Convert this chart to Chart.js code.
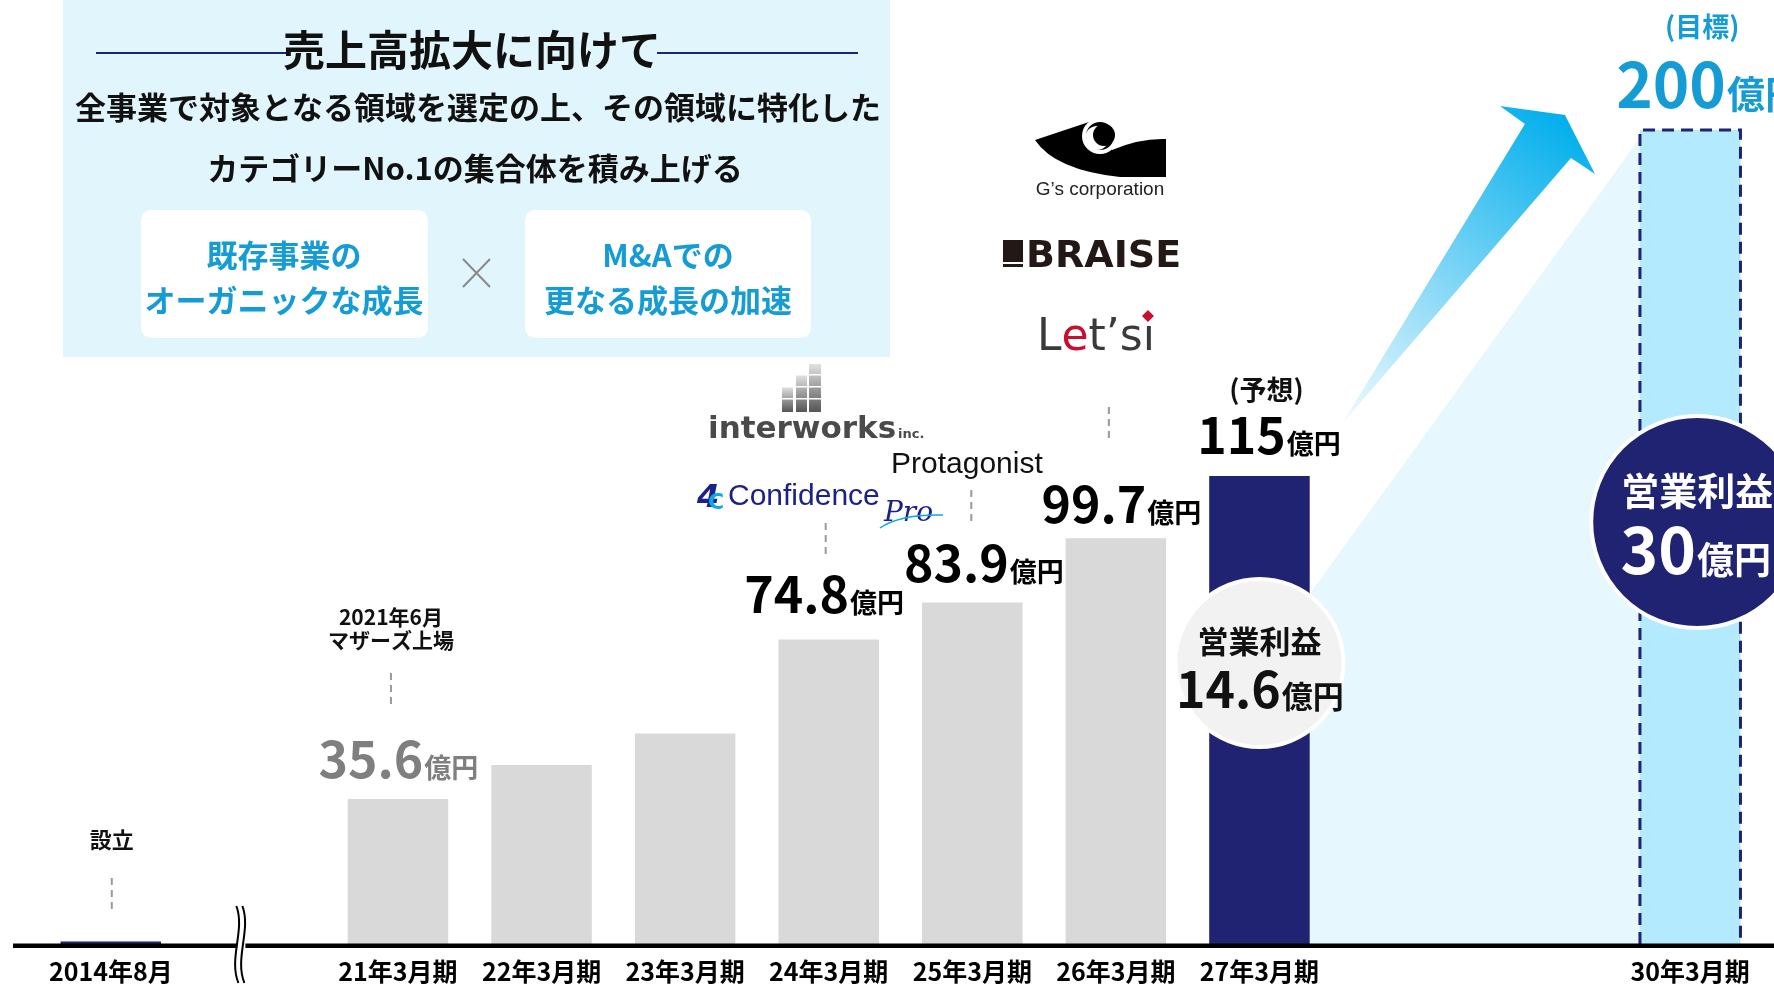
<!DOCTYPE html>
<html lang="ja">
<head>
<meta charset="utf-8">
<title>売上高拡大に向けて</title>
<script src="https://cdn.jsdelivr.net/npm/chart.js@4.4.1/dist/chart.umd.min.js"></script>
<style>
  html, body { margin: 0; padding: 0; background: #fff; }
  #wrap { width: 1774px; height: 985px; }
</style>
</head>
<body>
<div id="wrap"><canvas id="salesChart" width="1774" height="985"></canvas></div>
<script>
// 売上高（億円）: 2014年8月は設立時、28・29年は空欄
const categories = ['2014年8月', '', '21年3月期', '22年3月期', '23年3月期', '24年3月期', '25年3月期', '26年3月期', '27年3月期', '', '', '30年3月期'];
const sales = [0.6, null, 35.6, 44.0, 51.7, 74.8, 83.9, 99.7, 115, null, null, 200];
const labeledBars = [2, 5, 6, 7, 8];          // 金額を表示する棒
const profitValues = [14.6, 30];              // 営業利益 27年3月期(予想), 30年3月期(目標)

const FONT = '"Noto Sans CJK JP", "Noto Sans", sans-serif';
const NAVY = '#1f2372';
const CYAN = '#159cd4';
const barColors = [NAVY, 'rgba(0,0,0,0)', '#d9d9d9', '#d9d9d9', '#d9d9d9', '#d9d9d9', '#d9d9d9', '#d9d9d9', NAVY, 'rgba(0,0,0,0)', 'rgba(0,0,0,0)', '#b3eafd'];
// ラベルの位置調整 (棒の中心・上端からのずれ)
const labelShift = { 2: [0, -21, '#7f7f7f'], 5: [-5, -27, '#000'], 6: [11, -21, '#000'], 7: [5, -15, '#000'], 8: [9, -22, '#000'] };

function fmt(v) { return Number.isInteger(v) ? String(v) : v.toFixed(1); }

function text(ctx, s, x, y, size, color, opts) {
    opts = opts || {};
    ctx.font = `${opts.italic ? 'italic ' : ''}${opts.weight || 'bold'} ${size}px ${opts.family || FONT}`;
    ctx.fillStyle = color;
    ctx.textAlign = opts.align || 'center';
    ctx.textBaseline = opts.baseline || 'middle';
    ctx.fillText(s, x, y);
}

// 数字 + 億円
function amount(ctx, num, x, y, numSize, unitSize, color, align) {
    ctx.textBaseline = 'alphabetic';
    ctx.font = `bold ${numSize}px ${FONT}`;
    const w1 = ctx.measureText(num).width;
    ctx.font = `bold ${unitSize}px ${FONT}`;
    const w2 = ctx.measureText('億円').width;
    const left = align === 'left' ? x : x - (w1 + w2) / 2;
    ctx.fillStyle = color;
    ctx.textAlign = 'left';
    ctx.font = `bold ${numSize}px ${FONT}`;
    ctx.fillText(num, left, y);
    ctx.font = `bold ${unitSize}px ${FONT}`;
    ctx.fillText('億円', left + w1 + 1, y);
}

function dashV(ctx, x, y1, y2) {
    ctx.save();
    ctx.strokeStyle = '#9a9a9a';
    ctx.lineWidth = 2;
    ctx.setLineDash([7, 5]);
    ctx.beginPath();
    ctx.moveTo(x, y1);
    ctx.lineTo(x, y2);
    ctx.stroke();
    ctx.restore();
}

function circle(ctx, x, y, r, fill) {
    ctx.beginPath();
    ctx.arc(x, y, r, 0, Math.PI * 2);
    ctx.fillStyle = fill;
    ctx.fill();
    ctx.lineWidth = 4;
    ctx.strokeStyle = '#fff';
    ctx.stroke();
}

const decor = {
    id: 'decor',
    beforeDatasetsDraw(chart) {
        const ctx = chart.ctx;
        const meta = chart.getDatasetMeta(0);
        const base = chart.scales.y.getPixelForValue(0);
        const b27 = meta.data[8], b30 = meta.data[11];
        const r27 = b27.x + b27.width / 2, l30 = b30.x - b30.width / 2;
        ctx.save();

        // 左上のパネル
        ctx.fillStyle = '#e1f5fd';
        ctx.fillRect(63, 0, 827, 357);
        ctx.strokeStyle = NAVY;
        ctx.lineWidth = 2;
        ctx.beginPath();
        ctx.moveTo(96, 53); ctx.lineTo(287, 53);
        ctx.moveTo(657, 53); ctx.lineTo(858, 53);
        ctx.stroke();
        text(ctx, '売上高拡大に向けて', 472, 50, 42, '#111');
        text(ctx, '全事業で対象となる領域を選定の上、その領域に特化した', 478, 107, 31, '#111');
        text(ctx, 'カテゴリーNo.1の集合体を積み上げる', 475, 168, 31, '#111');
        ctx.fillStyle = '#fff';
        ctx.beginPath(); ctx.roundRect(141, 210, 287, 128, 10); ctx.fill();
        ctx.beginPath(); ctx.roundRect(525, 210, 286, 128, 10); ctx.fill();
        text(ctx, '既存事業の', 284, 255, 31, CYAN);
        text(ctx, 'オーガニックな成長', 284, 300, 31, CYAN);
        text(ctx, 'M&Aでの', 668, 255, 31, CYAN);
        text(ctx, '更なる成長の加速', 668, 300, 31, CYAN);
        ctx.strokeStyle = '#8a8a8a';
        ctx.lineWidth = 2;
        ctx.beginPath();
        ctx.moveTo(463, 259); ctx.lineTo(490, 287);
        ctx.moveTo(490, 259); ctx.lineTo(463, 287);
        ctx.stroke();

        // 27年 → 30年 の拡大部分
        ctx.fillStyle = '#e6f7fe';
        ctx.beginPath();
        ctx.moveTo(r27, b27.y + 118);
        ctx.lineTo(l30, b30.y + 8);
        ctx.lineTo(l30, base);
        ctx.lineTo(r27, base);
        ctx.closePath();
        ctx.fill();

        // 矢印
        const ax = l30, ay = b30.y;
        const g = ctx.createLinearGradient(ax - 298, ay + 294, ax - 75, ay - 15);
        g.addColorStop(0, '#f2fbff');
        g.addColorStop(0.45, '#86d8f6');
        g.addColorStop(1, '#00aeec');
        ctx.fillStyle = g;
        ctx.beginPath();
        ctx.moveTo(ax - 298, ay + 294);
        ctx.lineTo(ax - 115, ay - 6);
        ctx.lineTo(ax - 140, ay - 24);
        ctx.lineTo(ax - 75, ay - 15);
        ctx.lineTo(ax - 45, ay + 44);
        ctx.lineTo(ax - 69, ay + 28);
        ctx.closePath();
        ctx.fill();
        ctx.restore();
    },
    afterDatasetsDraw(chart) {
        const ctx = chart.ctx;
        const meta = chart.getDatasetMeta(0);
        const xs = chart.scales.x;
        const base = chart.scales.y.getPixelForValue(0);
        const bars = meta.data;
        ctx.save();

        // 30年3月期の点線枠
        const b30 = bars[11];
        const l = b30.x - b30.width / 2, r = b30.x + b30.width / 2;
        ctx.strokeStyle = NAVY;
        ctx.lineWidth = 3;
        ctx.setLineDash([12, 7]);
        ctx.beginPath();
        ctx.moveTo(l, base);
        ctx.lineTo(l, b30.y);
        ctx.lineTo(r, b30.y);
        ctx.lineTo(r, base);
        ctx.stroke();
        ctx.setLineDash([]);

        // 軸線と省略記号
        ctx.fillStyle = '#000';
        ctx.fillRect(13, base - 0.5, 1761, 4.5);
        const bx = xs.getPixelForValue(1) - 18;
        ctx.fillStyle = '#fff';
        ctx.fillRect(bx + 1, base - 4, 8, 12);
        ctx.strokeStyle = '#000';
        ctx.lineWidth = 2;
        [bx, bx + 6].forEach(x => {
            ctx.beginPath();
            ctx.moveTo(x, base - 38);
            ctx.bezierCurveTo(x + 9, base - 14, x - 8, base + 14, x + 2, base + 39);
            ctx.stroke();
        });

        // 注記
        const x0 = bars[0].x;
        text(ctx, '設立', x0 + 1, 840, 22, '#111');
        dashV(ctx, x0 + 1, 878, 913);
        const x21 = bars[2].x - 7;
        text(ctx, '2021年6月', x21, 617, 21, '#111');
        text(ctx, 'マザーズ上場', x21, 640, 21, '#111');
        dashV(ctx, x21, 673, 707);
        dashV(ctx, bars[5].x - 3, 523, 558);
        dashV(ctx, bars[6].x - 1, 490, 524);
        dashV(ctx, bars[7].x - 7, 407, 442);

        // 金額ラベル
        labeledBars.forEach(i => {
            const s = labelShift[i];
            amount(ctx, fmt(sales[i]), bars[i].x + s[0], bars[i].y + s[1], 50, 27, s[2]);
        });
        text(ctx, '(予想)', bars[8].x + 7, 390, 27, '#111');
        text(ctx, '(目標)', b30.x + 12, 27, 27, CYAN);
        amount(ctx, fmt(sales[11]), b30.x - 74, b30.y - 22, 62, 38, CYAN, 'left');

        // 営業利益
        const b27 = bars[8];
        const gy = b27.y + 187;
        circle(ctx, b27.x, gy, 84, '#f2f2f2');
        text(ctx, '営業利益', b27.x, gy - 22, 31, '#111');
        amount(ctx, fmt(profitValues[0]), b27.x, gy + 45, 50, 31, '#111');
        const ny = b30.y + 392;
        circle(ctx, b30.x + 7, ny, 106, NAVY);
        text(ctx, '営業利益', b30.x + 7, ny - 32, 38, '#fff');
        amount(ctx, fmt(profitValues[1]), b30.x + 5, ny + 52, 64, 37, '#fff');

        // ロゴ (文字で代用)
        // interworks
        [[782, 387, 11, 25], [796, 375, 11, 37], [809, 364, 12, 48]].forEach(c => {
            const gr = ctx.createLinearGradient(0, c[1], 0, c[1] + c[3]);
            gr.addColorStop(0, '#e2e2e2');
            gr.addColorStop(1, '#555');
            ctx.fillStyle = gr;
            ctx.fillRect(c[0], c[1], c[2], c[3]);
        });
        ctx.fillStyle = '#fff';
        [374, 386, 398].forEach(y => ctx.fillRect(780, y, 44, 1.5));
        text(ctx, 'interworks', 708, 438, 31, '#4a4a4a', { align: 'left', baseline: 'alphabetic', family: '"DejaVu Sans", sans-serif' });
        text(ctx, 'inc.', 898, 438, 13, '#4a4a4a', { align: 'left', baseline: 'alphabetic', family: '"DejaVu Sans", sans-serif' });
        // Confidence
        text(ctx, '4', 697, 507, 32, '#1d2088', { align: 'left', baseline: 'alphabetic', italic: true, family: '"DejaVu Sans", sans-serif' });
        text(ctx, 'C', 708, 509, 22, '#0aa8e6', { align: 'left', baseline: 'alphabetic', family: '"DejaVu Sans", sans-serif' });
        text(ctx, 'Confidence', 728, 505, 30, '#1d2088', { align: 'left', baseline: 'alphabetic', weight: 'normal', family: '"Liberation Sans", sans-serif' });
        // Protagonist / Pro
        text(ctx, 'Protagonist', 891, 473, 30, '#111', { align: 'left', baseline: 'alphabetic', weight: 'normal', family: '"Liberation Sans", sans-serif' });
        text(ctx, 'Pro', 884, 521, 28, '#1d2088', { align: 'left', baseline: 'alphabetic', weight: 'normal', italic: true, family: '"DejaVu Serif", serif' });
        ctx.strokeStyle = '#0aa8e6';
        ctx.lineWidth = 1.5;
        ctx.beginPath();
        ctx.moveTo(880, 528);
        ctx.quadraticCurveTo(900, 514, 943, 515);
        ctx.stroke();
        // G's corporation
        ctx.fillStyle = '#000';
        ctx.beginPath();
        ctx.moveTo(1035, 140);
        ctx.lineTo(1092, 121);
        ctx.lineTo(1112, 150);
        ctx.quadraticCurveTo(1140, 138, 1166, 139);
        ctx.lineTo(1166, 177);
        ctx.lineTo(1120, 177);
        ctx.quadraticCurveTo(1055, 170, 1035, 140);
        ctx.closePath();
        ctx.fill();
        circle(ctx, 1100, 136, 16, '#000');
        ctx.beginPath(); ctx.arc(1097, 138, 12, 0, Math.PI * 2); ctx.fillStyle = '#fff'; ctx.fill();
        ctx.beginPath(); ctx.arc(1104, 135, 11, 0, Math.PI * 2); ctx.fillStyle = '#000'; ctx.fill();
        text(ctx, 'G’s corporation', 1100, 190, 19, '#222', { weight: 'normal', family: '"Liberation Sans", sans-serif' });
        // BRAISE
        ctx.fillStyle = '#231815';
        ctx.fillRect(1003, 240, 20, 22);
        ctx.fillRect(1003, 264, 20, 3);
        text(ctx, 'BRAISE', 1026, 267, 38, '#231815', { align: 'left', baseline: 'alphabetic', family: '"DejaVu Sans", sans-serif' });
        // Let'si
        let lx = 1037;
        [['L', '#3a3a3a'], ['e', '#c8102e'], ['t’s', '#3a3a3a'], ['ı', '#3a3a3a']].forEach(p => {
            text(ctx, p[0], lx, 350, 44, p[1], { align: 'left', baseline: 'alphabetic', weight: 'normal', family: '"DejaVu Sans", sans-serif' });
            lx += ctx.measureText(p[0]).width;
        });
        ctx.fillStyle = '#c8102e';
        ctx.beginPath();
        ctx.moveTo(lx - 7, 310); ctx.lineTo(lx - 1, 316); ctx.lineTo(lx - 7, 322); ctx.lineTo(lx - 13, 316);
        ctx.closePath();
        ctx.fill();

        ctx.restore();
    }
};

new Chart(document.getElementById('salesChart'), {
    type: 'bar',
    data: {
        labels: categories,
        datasets: [{
            label: '売上高（億円）',
            data: sales,
            backgroundColor: barColors,
            borderWidth: 0,
            barPercentage: 0.7,
            categoryPercentage: 1.0
        }]
    },
    options: {
        responsive: false,
        animation: false,
        devicePixelRatio: 1,
        layout: { padding: { left: 39, right: 12, top: 8, bottom: -13 } },
        plugins: { legend: { display: false }, tooltip: { enabled: false } },
        scales: {
            x: {
                grid: { display: false, drawTicks: false },
                border: { display: false },
                ticks: {
                    color: '#000',
                    font: { family: FONT, size: 25, weight: 'bold' },
                    padding: 12,
                    maxRotation: 0,
                    autoSkip: false
                }
            },
            y: { display: false, min: 0, max: 230 }
        }
    },
    plugins: [decor]
});
</script>
</body>
</html>
